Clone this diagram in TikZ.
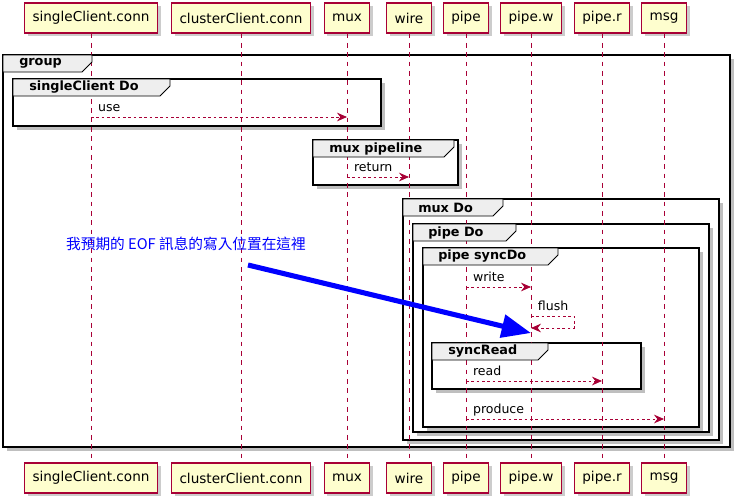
\documentclass[tikz,border=0pt]{standalone}
\usepackage{fontspec}
\setmainfont{DejaVu Sans}
\newfontfamily\cjkfont{Noto Sans CJK TC}
\usepackage{tikz}
\usetikzlibrary{arrows.meta,shadows}
\usepackage{xcolor}
\definecolor{umlRed}{HTML}{A80036}
\definecolor{umlCream}{HTML}{FEFECE}
\definecolor{tabGray}{HTML}{EEEEEE}

\begin{document}
\begin{tikzpicture}[x=0.75pt, y=-0.75pt,
    partBox/.style={rectangle, draw=umlRed, fill=umlCream, line width=0.8pt, minimum height=22.5pt, inner xsep=6pt, font=\fontsize{10.2}{12}\selectfont, drop shadow={shadow xshift=2.5pt, shadow yshift=-2.5pt, opacity=.4}},
    lifeLine/.style={draw=umlRed, line width=0.5pt, dash pattern=on 3.5pt off 3.5pt},
    frameBox/.style={draw=black, line width=1.4pt, fill=white, drop shadow={shadow xshift=2.8pt, shadow yshift=-2.8pt, opacity=.5}},
    frameTab/.style={draw=black, line width=0.7pt, fill=tabGray},
    frameLabel/.style={anchor=west, font=\bfseries\fontsize{9.6}{11}\selectfont, inner sep=0pt},
    msgArrow/.style={-{Stealth[length=7.5pt, width=6.5pt, inset=2.5pt]}, draw=umlRed, line width=0.6pt, dash pattern=on 2pt off 2pt},
    msgLabel/.style={anchor=south west, font=\fontsize{9.4}{11}\selectfont, inner xsep=5pt, inner ysep=2pt, text depth=0.2em},
    eofArrow/.style={-{Triangle[length=22pt, width=17pt]}, draw=blue, line width=3.8pt},
    eofNote/.style={text=blue, font=\cjkfont\fontsize{11}{13}\selectfont}
]
    \useasboundingbox (0,0) rectangle (735,500);

    % Participants (top and bottom)
    \node[partBox] (scTop)    at (91,18)  {singleClient.conn};
    \node[partBox] (ccTop)    at (241,18) {clusterClient.conn};
    \node[partBox] (muxTop)   at (347,18) {mux};
    \node[partBox] (wireTop)  at (409,18) {wire};
    \node[partBox] (pipeTop)  at (466,18) {pipe};
    \node[partBox] (pipewTop) at (531,18) {pipe.w};
    \node[partBox] (piperTop) at (602,18) {pipe.r};
    \node[partBox] (msgTop)   at (664,18) {msg};

    \node[partBox] (scBot)    at (91,478)  {singleClient.conn};
    \node[partBox] (ccBot)    at (241,478) {clusterClient.conn};
    \node[partBox] (muxBot)   at (347,478) {mux};
    \node[partBox] (wireBot)  at (409,478) {wire};
    \node[partBox] (pipeBot)  at (466,478) {pipe};
    \node[partBox] (pipewBot) at (531,478) {pipe.w};
    \node[partBox] (piperBot) at (602,478) {pipe.r};
    \node[partBox] (msgBot)   at (664,478) {msg};

    % Frames
    \draw[frameBox] (3,55)    rectangle (730,447);
    \draw[frameBox] (13,79)   rectangle (381,126);
    \draw[frameBox] (313,140) rectangle (458,185);
    \draw[frameBox] (403,199) rectangle (719,440);
    \draw[frameBox] (413,224) rectangle (709,432);
    \draw[frameBox] (423,248) rectangle (699,427);
    \draw[frameBox] (432,343) rectangle (641,389);

    % Lifelines
    \draw[lifeLine] (scTop) -- (scBot);
    \draw[lifeLine] (ccTop) -- (ccBot);
    \draw[lifeLine] (muxTop) -- (muxBot);
    \draw[lifeLine] (wireTop) -- (wireBot);
    \draw[lifeLine] (pipeTop) -- (pipeBot);
    \draw[lifeLine] (pipewTop) -- (pipewBot);
    \draw[lifeLine] (piperTop) -- (piperBot);
    \draw[lifeLine] (msgTop) -- (msgBot);

    % Frame tabs
    \draw[frameTab] (3,55) -- (92,55) -- ++(0,7) -- ++(-10,10) -- (3,72) -- cycle;
    \node[frameLabel] (tGroup) at (19,63.5) {group};
    \draw[frameTab] (13,79) -- (170,79) -- ++(0,7) -- ++(-10,10) -- (13,96) -- cycle;
    \node[frameLabel] (tSingle) at (29,87.5) {singleClient Do};
    \draw[frameTab] (313,140) -- (454,140) -- ++(0,7) -- ++(-10,10) -- (313,157) -- cycle;
    \node[frameLabel] (tPipeline) at (329,148.5) {mux pipeline};
    \draw[frameTab] (403,199) -- (503,199) -- ++(0,7) -- ++(-10,10) -- (403,216) -- cycle;
    \node[frameLabel] (tMuxDo) at (418,207.5) {mux Do};
    \draw[frameTab] (413,224) -- (516,224) -- ++(0,7) -- ++(-10,10) -- (413,241) -- cycle;
    \node[frameLabel] (tPipeDo) at (428,232.5) {pipe Do};
    \draw[frameTab] (423,248) -- (558,248) -- ++(0,7) -- ++(-10,10) -- (423,265) -- cycle;
    \node[frameLabel] (tSyncDo) at (438,256.5) {pipe syncDo};
    \draw[frameTab] (432,343) -- (548,343) -- ++(0,7) -- ++(-10,10) -- (432,360) -- cycle;
    \node[frameLabel] (tSyncRead) at (448,351.5) {syncRead};

    % Messages
    \draw[msgArrow] (scTop |- 0,117) -- (muxTop |- 0,117) node[msgLabel, pos=0] {use};
    \draw[msgArrow] (muxTop |- 0,177) -- (wireTop |- 0,177) node[msgLabel, pos=0] {return};
    \draw[msgArrow] (pipeTop |- 0,287) -- (pipewTop |- 0,287) node[msgLabel, pos=0] {write};
    \draw[msgArrow] (pipewTop |- 0,316) -- ++(43,0) |- (pipewTop |- 0,328);
    \node[msgLabel] (lFlush) at (pipewTop |- 0,316) {flush};
    \draw[msgArrow] (pipeTop |- 0,381) -- (piperTop |- 0,381) node[msgLabel, pos=0] {read};
    \draw[msgArrow] (pipeTop |- 0,419) -- (msgTop |- 0,419) node[msgLabel, pos=0] {produce};

    % Note: expected EOF position
    \node[eofNote] (eofText) at (186,244) {我預期的 EOF 訊息的寫入位置在這裡};
    \coordinate (eofFrom) at (248,265);
    \coordinate (eofTo) at (531,333);
    \draw[eofArrow] (eofFrom) -- (eofTo);
\end{tikzpicture}
\end{document}
